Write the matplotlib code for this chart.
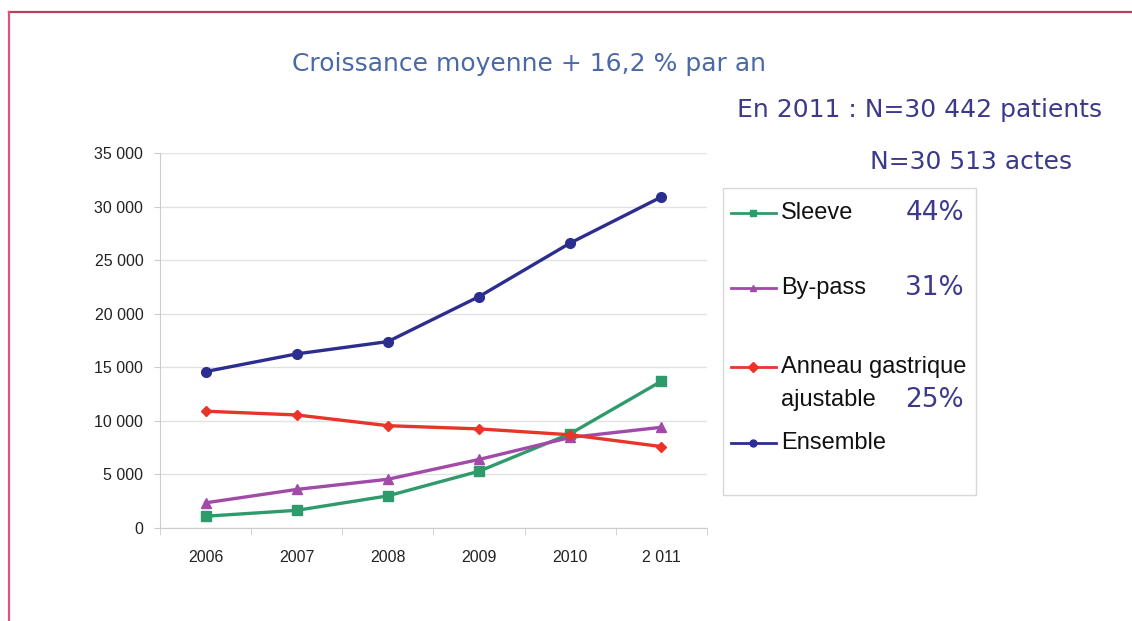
import matplotlib.pyplot as plt
from matplotlib.lines import Line2D
from matplotlib.patches import Rectangle
from matplotlib.ticker import FuncFormatter, FixedLocator

years = ['2006', '2007', '2008', '2009', '2010', '2 011']
sleeve = [1100, 1650, 3000, 5300, 8800, 13700]
bypass = [2350, 3600, 4550, 6400, 8450, 9400]
anneau = [10900, 10550, 9550, 9250, 8700, 7600]
ensemble = [14600, 16250, 17400, 21600, 26600, 30900]

names = ['Sleeve', 'By-pass', 'Anneau gastrique\najustable', 'Ensemble']
shares = ['44%', '31%', '25%', '']
colors = ['#2f9a6c', '#a24aa8', '#e8352a', '#2b2e8e']
markers = ['s', '^', 'D', 'o']
msizes = [6.5, 7.5, 5.5, 7]

W, H = 1132, 621
fig = plt.figure(figsize=(W / 100, H / 100), dpi=100)


def fx(px):
    return px / W


def fy(py):
    return 1 - py / H


ax = fig.add_axes([fx(160), fy(528), fx(707) - fx(160), fy(153) - fy(528)])
x = list(range(len(years)))
for vals, c, m, ms in zip([sleeve, bypass, anneau, ensemble], colors, markers, msizes):
    ax.plot(x, vals, color=c, lw=2.4, marker=m, markersize=ms, zorder=3)

ax.set_xlim(-0.5, len(years) - 0.5)
ax.set_ylim(0, 35000)
ax.set_yticks(range(0, 35001, 5000))
ax.yaxis.set_major_formatter(FuncFormatter(lambda v, p: f'{int(v):,}'.replace(',', ' ')))
ax.set_xticks(x)
ax.set_xticklabels(years)
ax.xaxis.set_minor_locator(FixedLocator([i - 0.5 for i in range(len(years) + 1)]))
ax.tick_params(axis='x', which='major', length=0, pad=16)
ax.tick_params(axis='x', which='minor', length=5, color='#cccccc')
ax.tick_params(axis='y', length=4, color='#cccccc', pad=8)
for lab in ax.get_xticklabels() + ax.get_yticklabels():
    lab.set_fontfamily('Liberation Sans')
    lab.set_fontsize(11.5)
    lab.set_color('#222222')
ax.grid(axis='y', color='#e2e2e2', lw=1)
ax.set_axisbelow(True)
for s in ['top', 'right']:
    ax.spines[s].set_visible(False)
for s in ['left', 'bottom']:
    ax.spines[s].set_color('#cccccc')

# headline texts
fig.text(fx(529), fy(64), 'Croissance moyenne + 16,2 % par an', ha='center', va='center',
         fontsize=18, color='#4a69a6', family='DejaVu Sans')
fig.text(fx(737), fy(110), 'En 2011 : N=30 442 patients', ha='left', va='center',
         fontsize=18, color='#3b3a8a', family='DejaVu Sans')
fig.text(fx(870), fy(162), 'N=30 513 actes', ha='left', va='center',
         fontsize=18, color='#3b3a8a', family='DejaVu Sans')

# hand-made legend box
fig.add_artist(Rectangle((fx(723), fy(495)), fx(976) - fx(723), fy(188) - fy(495),
                         transform=fig.transFigure, fill=False, edgecolor='#d8d8d8', lw=1))
rows = [213, 288, 367, 443]
for name, c, m, ry in zip(names, colors, markers, rows):
    fig.add_artist(Line2D([fx(731), fx(776)], [fy(ry), fy(ry)], color=c, lw=2,
                          transform=fig.transFigure))
    fig.add_artist(Line2D([fx(753)], [fy(ry)], color=c, marker=m, markersize=5,
                          transform=fig.transFigure))
    for k, part in enumerate(name.split('\n')):
        fig.text(fx(781), fy(ry + 33 * k), part, ha='left', va='center', fontsize=17,
                 family='Liberation Sans', color='#111111')
share_y = [213, 288, 400, 443]
for share, sy in zip(shares, share_y):
    if share:
        fig.text(fx(964), fy(sy), share, ha='right', va='center', fontsize=19,
                 family='DejaVu Sans', color='#3b3a8c')

# frame lines of the slide
fig.add_artist(Line2D([fx(9), fx(W)], [fy(12), fy(12)], color='#b8405e', lw=1.6,
                      transform=fig.transFigure))
fig.add_artist(Line2D([fx(9), fx(9)], [fy(12), fy(H)], color='#e0507a', lw=1.6,
                      transform=fig.transFigure))

fig.savefig('out.png', dpi=100)
